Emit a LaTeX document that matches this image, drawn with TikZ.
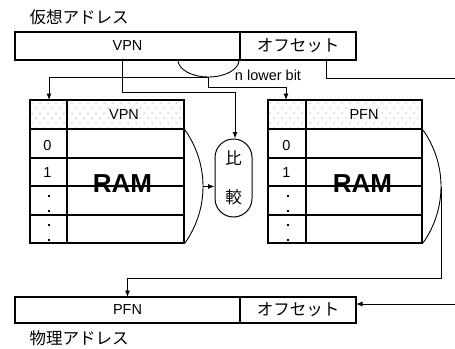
\documentclass[tikz,border=0pt]{standalone}
\usepackage{fontspec}
\setmainfont{Liberation Sans}
\newfontfamily\cjk{Noto Sans CJK JP}
\usetikzlibrary{arrows.meta,calc}
\begin{document}
\begin{tikzpicture}[x=1pt,y=-1pt,
  txt/.style={font=\fontsize{14.5}{17}\selectfont, inner sep=0pt},
  jp/.style={font=\cjk\fontsize{16.5}{20}\selectfont, inner sep=0pt},
  cell/.style={draw, line width=1.1pt, inner sep=0pt, outer sep=0pt, anchor=center},
  tab/.style={draw, line width=1.2pt, inner sep=0pt, outer sep=0pt, minimum width=154pt, minimum height=143pt},
  ram/.style={font=\fontsize{26}{30}\selectfont\bfseries, inner sep=0pt},
  conn/.style={line width=0.9pt},
  arr/.style={conn, -{Latex[length=6.5pt,width=5pt]}},
  grid/.style={line width=1.1pt},
  dotc/.style={fill=black!70}
]
\useasboundingbox (0,0) rectangle (455,348);

% address boxes
\node[jp] (vaddr) at (79,17) {仮想アドレス};
\node[cell, minimum width=225pt, minimum height=28pt, txt] (vpnA) at (127.5,46) {VPN};
\node[cell, minimum width=116pt, minimum height=28pt, jp] (offA) at (298,46) {オフセット};

\node[cell, minimum width=225pt, minimum height=26pt, txt] (pfnB) at (127.5,310) {PFN};
\node[cell, minimum width=116pt, minimum height=26pt, jp] (offB) at (298,310) {オフセット};
\node[jp] (paddr) at (79,338) {物理アドレス};

% header dots
\begin{scope}
  \clip (30,100) rectangle (184,129);
  \foreach \r in {0,...,5}{
    \foreach \c in {0,...,20}{
      \fill[dotc] ({32+\c*8+mod(\r,2)*4},{103+\r*5}) circle (0.5pt);
    }
  }
\end{scope}
\begin{scope}
  \clip (268,100) rectangle (422,129);
  \foreach \r in {0,...,5}{
    \foreach \c in {0,...,20}{
      \fill[dotc] ({270+\c*8+mod(\r,2)*4},{103+\r*5}) circle (0.5pt);
    }
  }
\end{scope}

% table texts
\node[txt] (lhv) at (124,115) {VPN};
\node[txt] (rhv) at (364,115) {PFN};
\node[txt] (l0) at (47.5,145.5) {0};
\node[txt] (l1) at (47.5,173) {1};
\node[txt] (r0) at (286.5,145.5) {0};
\node[txt] (r1) at (286.5,173) {1};
\node[ram] (lram) at (122.5,183.5) {RAM};
\node[ram] (rram) at (362.5,183.5) {RAM};
\foreach \yy in {196,211,225,240}{
  \fill (48,\yy-1) rectangle (50.2,\yy+1.2);
  \fill (287,\yy-1) rectangle (289.2,\yy+1.2);
}

% tables
\node[tab] (ltab) at (107,171.5) {};
\node[tab] (rtab) at (345,171.5) {};
\draw[grid] (67,100) -- (67,243);
\draw[grid] (306,100) -- (306,243);
\foreach \yy in {129,158,186,215}{
  \draw[grid] (30,\yy) -- (184,\yy);
  \draw[grid] (268,\yy) -- (422,\yy);
}

% compare node
\node[draw, line width=1pt, rounded corners=18.5pt, minimum width=37pt, minimum height=78pt,
      inner sep=0pt, align=center, font=\cjk\fontsize{16.5}{39}\selectfont] (cmp) at (233.5,178) {比\\較};

% connectors
\draw[arr] ([xshift=-5.5pt]vpnA.south) |- ($(cmp.north)+(1.5,-46)$) -- ([xshift=1.5pt]cmp.north);

\coordinate (ab) at (208.5,77);
\draw[conn] (178,60) .. controls (178,69.4) and (191.7,77) .. (ab)
            .. controls (225.3,77) and (239,69.4) .. (239,60);
\draw[arr] (ab) -| ([xshift=-58pt]ltab.north);
\draw[arr] (ab) -- ++(0,10) -| ([xshift=-59pt]rtab.north);
\node[txt] (nlb) at (268,75) {n lower bit};

\coordinate (oe) at (455,78);
\draw[conn] ([xshift=28pt]offA.south) |- (oe);

\draw[conn] (185,130) .. controls (196.7,146.5) and (203,166.3) .. (203,186.5) coordinate (lb)
            .. controls (203,206.7) and (196.7,226.5) .. (185,243);
\draw[arr] (lb) -- (lb -| cmp.west);

\draw[conn] (423,130) .. controls (434.7,146.5) and (441,166.3) .. (441,186.5) coordinate (rb)
            .. controls (441,206.7) and (434.7,226.5) .. (423,243);
\draw[arr] (rb) -- ++(0,91.5) -| (pfnB.north);

\coordinate (ie) at (455,304);
\draw[arr] (ie) -- (ie -| offB.east);
\end{tikzpicture}
\end{document}
